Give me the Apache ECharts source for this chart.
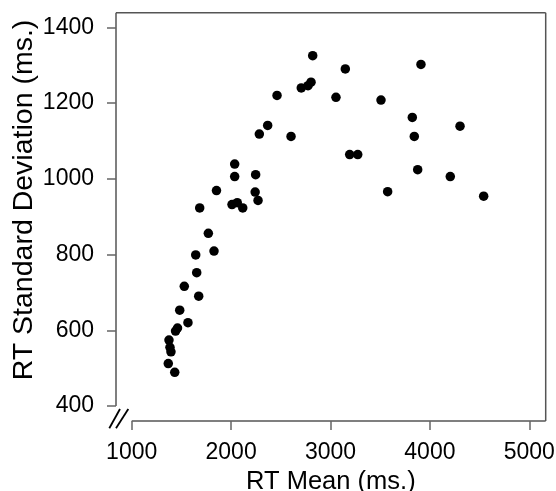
<!DOCTYPE html>
<html>
<head>
<meta charset="utf-8">
<script src="https://cdn.jsdelivr.net/npm/echarts@6/dist/echarts.min.js"></script>
<style>
html,body{margin:0;padding:0;background:#fff;}
#chart{width:556px;height:491px;}
</style>
</head>
<body>
<div id="chart"></div>
<script>
// RT mean (ms.) of each condition
const rtMean = [2821,3149,3910,2804,2774,2706,2462,3055,3508,3823,
                2368,4303,2284,2603,3843,3193,3274,2036,2036,2247,
                3877,4205,1853,2242,3575,4541,2271,2009,2062,2117,
                1684,1771,1828,1644,1654,1529,1674,1483,1566,1441,
                1461,1375,1385,1395,1368,1433];
// RT standard deviation (ms.)
const rtSD = [1325,1290,1302,1255,1246,1240,1220,1215,1208,1162,
              1141,1139,1118,1112,1112,1064,1064,1039,1006,1011,
              1024,1006,969,965,966,954,943,932,937,923,
              923,856,809,799,752,716,690,653,620,598,
              606,574,555,543,512,489];
const xTicks = [1000,2000,3000,4000,5000];
const yTicks = [400,600,800,1000,1200,1400];
const xTitle = 'RT Mean (ms.)';
const yTitle = 'RT Standard Deviation (ms.)';

const points = rtMean.map((v,i)=>[v, rtSD[i]]);
const FONT = '"Liberation Sans", Arial, Helvetica, sans-serif';
const plain = v => String(v);

const chart = echarts.init(document.getElementById('chart'), null, {renderer:'canvas'});
const opt = {
  animation:false,
  backgroundColor:'#fff',
  grid:{left:116, right:10.3, top:12.7, bottom:70, containLabel:false, outerBoundsMode:'none'},
  xAxis:{
    type:'value', min:842, max:5165,
    splitLine:{show:false},
    axisLine:{show:false},
    axisTick:{show:true, length:9, lineStyle:{color:'#666', width:1.5}, customValues:xTicks},
    axisLabel:{customValues:xTicks, formatter:plain, fontFamily:FONT, fontSize:23, color:'#000', margin:20},
    name:xTitle, nameLocation:'middle', nameGap:42,
    nameTextStyle:{fontFamily:FONT, fontSize:25.5, color:'#000'}
  },
  yAxis:{
    type:'value', min:360.4, max:1438.6,
    splitLine:{show:false},
    axisLine:{show:false},
    axisTick:{show:true, length:9, lineStyle:{color:'#666', width:1.5}, customValues:yTicks},
    axisLabel:{customValues:yTicks, formatter:plain, fontFamily:FONT, fontSize:23, color:'#000', margin:22, padding:[4,0,0,0]}
  },
  series:[{
    type:'scatter', data:points, symbol:'circle', symbolSize:9.5,
    itemStyle:{color:'#000', opacity:1}
  }]
};
chart.setOption(opt);

// box frame with axis break, positioned from the axes' own scales
const tl = chart.convertToPixel({gridIndex:0}, [842, 1438.6]);
const br = chart.convertToPixel({gridIndex:0}, [5165, 360.4]);
const yBreak = chart.convertToPixel({gridIndex:0}, [842, yTicks[0]])[1];
const xBreak = chart.convertToPixel({gridIndex:0}, [xTicks[0], 360.4])[0];
const frame = {stroke:'#555', lineWidth:1.5};
const brk = {stroke:'#000', lineWidth:1.8};
const L = tl[0], T = tl[1], R = br[0], B = br[1];
chart.setOption({
  graphic:[
    {type:'line', shape:{x1:L, y1:T, x2:L, y2:yBreak}, style:frame, silent:true},
    {type:'line', shape:{x1:L, y1:T, x2:R, y2:T}, style:frame, silent:true},
    {type:'line', shape:{x1:R, y1:T, x2:R, y2:B}, style:frame, silent:true},
    {type:'line', shape:{x1:xBreak, y1:B, x2:R, y2:B}, style:frame, silent:true},
    {type:'line', shape:{x1:L-6.7, y1:B+7.3, x2:L+4, y2:B-12}, style:brk, silent:true},
    {type:'line', shape:{x1:L, y1:B+7.3, x2:L+12.3, y2:B-12}, style:brk, silent:true},
    {type:'text', x:24, y:200, rotation:Math.PI/2,
     style:{text:yTitle, font:'28.5px ' + FONT, fill:'#000', textAlign:'center', textVerticalAlign:'middle'}, silent:true}
  ]
});
</script>
</body>
</html>
